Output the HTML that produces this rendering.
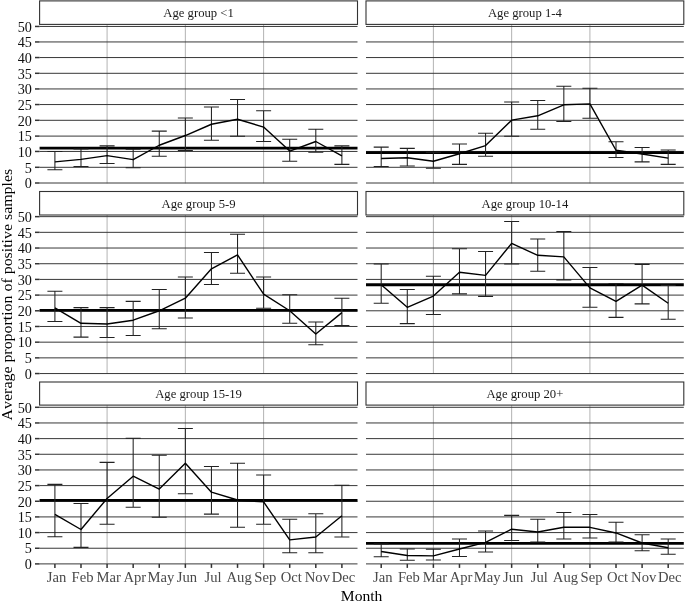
<!DOCTYPE html><html><head><meta charset="utf-8"><style>
html,body{margin:0;padding:0;background:#fff;}
svg{display:block;filter:grayscale(1);}
text{font-family:"Liberation Serif",serif;font-kerning:none;}
.st{font-size:12.7px;fill:#1a1a1a;text-anchor:middle;}
.yl{font-size:14.5px;fill:#111;text-anchor:end;}
.xl{font-size:14.5px;fill:#4a4a4a;text-anchor:middle;}
.tt{font-size:15.6px;fill:#000;text-anchor:middle;}
</style></head><body>
<svg width="685" height="602" viewBox="0 0 685 602">
<rect width="685" height="602" fill="#fff"/>
<g stroke="#b3b3b3" stroke-width="1.0"><line x1="107.08" y1="24.4" x2="107.08" y2="183.4"/><line x1="185.35" y1="24.4" x2="185.35" y2="183.4"/><line x1="263.62" y1="24.4" x2="263.62" y2="183.4"/><line x1="433.38" y1="24.4" x2="433.38" y2="183.4"/><line x1="511.65" y1="24.4" x2="511.65" y2="183.4"/><line x1="589.92" y1="24.4" x2="589.92" y2="183.4"/><line x1="107.08" y1="215" x2="107.08" y2="373.95"/><line x1="185.35" y1="215" x2="185.35" y2="373.95"/><line x1="263.62" y1="215" x2="263.62" y2="373.95"/><line x1="433.38" y1="215" x2="433.38" y2="373.95"/><line x1="511.65" y1="215" x2="511.65" y2="373.95"/><line x1="589.92" y1="215" x2="589.92" y2="373.95"/><line x1="107.08" y1="405.1" x2="107.08" y2="564.3"/><line x1="185.35" y1="405.1" x2="185.35" y2="564.3"/><line x1="263.62" y1="405.1" x2="263.62" y2="564.3"/><line x1="433.38" y1="405.1" x2="433.38" y2="564.3"/><line x1="511.65" y1="405.1" x2="511.65" y2="564.3"/><line x1="589.92" y1="405.1" x2="589.92" y2="564.3"/></g>
<g stroke="#383838" stroke-width="1.0"><line x1="39.6" y1="183" x2="357.5" y2="183"/><line x1="39.6" y1="167.3" x2="357.5" y2="167.3"/><line x1="39.6" y1="151.45" x2="357.5" y2="151.45"/><line x1="39.6" y1="136.1" x2="357.5" y2="136.1"/><line x1="39.6" y1="120.3" x2="357.5" y2="120.3"/><line x1="39.6" y1="104.55" x2="357.5" y2="104.55"/><line x1="39.6" y1="88.95" x2="357.5" y2="88.95"/><line x1="39.6" y1="73.3" x2="357.5" y2="73.3"/><line x1="39.6" y1="57.55" x2="357.5" y2="57.55"/><line x1="39.6" y1="41.95" x2="357.5" y2="41.95"/><line x1="39.6" y1="26.45" x2="357.5" y2="26.45"/><line x1="366" y1="183" x2="683.8" y2="183"/><line x1="366" y1="167.3" x2="683.8" y2="167.3"/><line x1="366" y1="151.45" x2="683.8" y2="151.45"/><line x1="366" y1="136.1" x2="683.8" y2="136.1"/><line x1="366" y1="120.3" x2="683.8" y2="120.3"/><line x1="366" y1="104.55" x2="683.8" y2="104.55"/><line x1="366" y1="88.95" x2="683.8" y2="88.95"/><line x1="366" y1="73.3" x2="683.8" y2="73.3"/><line x1="366" y1="57.55" x2="683.8" y2="57.55"/><line x1="366" y1="41.95" x2="683.8" y2="41.95"/><line x1="366" y1="26.45" x2="683.8" y2="26.45"/><line x1="39.6" y1="373.55" x2="357.5" y2="373.55"/><line x1="39.6" y1="357.86" x2="357.5" y2="357.86"/><line x1="39.6" y1="342.17" x2="357.5" y2="342.17"/><line x1="39.6" y1="326.48" x2="357.5" y2="326.48"/><line x1="39.6" y1="310.79" x2="357.5" y2="310.79"/><line x1="39.6" y1="295.1" x2="357.5" y2="295.1"/><line x1="39.6" y1="279.41" x2="357.5" y2="279.41"/><line x1="39.6" y1="263.72" x2="357.5" y2="263.72"/><line x1="39.6" y1="248.03" x2="357.5" y2="248.03"/><line x1="39.6" y1="232.34" x2="357.5" y2="232.34"/><line x1="39.6" y1="216.65" x2="357.5" y2="216.65"/><line x1="366" y1="373.55" x2="683.8" y2="373.55"/><line x1="366" y1="357.86" x2="683.8" y2="357.86"/><line x1="366" y1="342.17" x2="683.8" y2="342.17"/><line x1="366" y1="326.48" x2="683.8" y2="326.48"/><line x1="366" y1="310.79" x2="683.8" y2="310.79"/><line x1="366" y1="295.1" x2="683.8" y2="295.1"/><line x1="366" y1="279.41" x2="683.8" y2="279.41"/><line x1="366" y1="263.72" x2="683.8" y2="263.72"/><line x1="366" y1="248.03" x2="683.8" y2="248.03"/><line x1="366" y1="232.34" x2="683.8" y2="232.34"/><line x1="366" y1="216.65" x2="683.8" y2="216.65"/><line x1="39.6" y1="563.9" x2="357.5" y2="563.9"/><line x1="39.6" y1="548.24" x2="357.5" y2="548.24"/><line x1="39.6" y1="532.58" x2="357.5" y2="532.58"/><line x1="39.6" y1="516.92" x2="357.5" y2="516.92"/><line x1="39.6" y1="501.26" x2="357.5" y2="501.26"/><line x1="39.6" y1="485.6" x2="357.5" y2="485.6"/><line x1="39.6" y1="469.94" x2="357.5" y2="469.94"/><line x1="39.6" y1="454.28" x2="357.5" y2="454.28"/><line x1="39.6" y1="438.62" x2="357.5" y2="438.62"/><line x1="39.6" y1="422.96" x2="357.5" y2="422.96"/><line x1="39.6" y1="407.3" x2="357.5" y2="407.3"/><line x1="366" y1="563.9" x2="683.8" y2="563.9"/><line x1="366" y1="548.24" x2="683.8" y2="548.24"/><line x1="366" y1="532.58" x2="683.8" y2="532.58"/><line x1="366" y1="516.92" x2="683.8" y2="516.92"/><line x1="366" y1="501.26" x2="683.8" y2="501.26"/><line x1="366" y1="485.6" x2="683.8" y2="485.6"/><line x1="366" y1="469.94" x2="683.8" y2="469.94"/><line x1="366" y1="454.28" x2="683.8" y2="454.28"/><line x1="366" y1="438.62" x2="683.8" y2="438.62"/><line x1="366" y1="422.96" x2="683.8" y2="422.96"/><line x1="366" y1="407.3" x2="683.8" y2="407.3"/></g>
<g fill="#fff" stroke="#333333" stroke-width="1.1"><rect x="39.6" y="0.9" width="317.9" height="23.5"/><rect x="366" y="0.9" width="317.8" height="23.5"/><rect x="39.6" y="191.5" width="317.9" height="23.5"/><rect x="366" y="191.5" width="317.8" height="23.5"/><rect x="39.6" y="382" width="317.9" height="23.1"/><rect x="366" y="382" width="317.8" height="23.1"/></g>
<g stroke="#000" stroke-width="2.8"><line x1="39.6" y1="148.08" x2="357.5" y2="148.08"/><line x1="366" y1="152.62" x2="683.8" y2="152.62"/><line x1="39.6" y1="310.47" x2="357.5" y2="310.47"/><line x1="366" y1="284.75" x2="683.8" y2="284.75"/><line x1="39.6" y1="500.34" x2="357.5" y2="500.34"/><line x1="366" y1="543.3" x2="683.8" y2="543.3"/></g>
<g fill="none" stroke="#222" stroke-width="1.05"><path d="M47.4 151.53H62.4M54.9 151.53V169.72M47.4 169.72H62.4"/><path d="M73.49 149.02H88.49M80.99 149.02V166.58M73.49 166.58H88.49"/><path d="M99.58 145.88H114.58M107.08 145.88V163.44M99.58 163.44H114.58"/><path d="M125.67 149.33H140.67M133.17 149.33V167.83M125.67 167.83H140.67"/><path d="M151.76 131.14H166.76M159.26 131.14V156.23M151.76 156.23H166.76"/><path d="M177.85 117.97H192.85M185.35 117.97V150.59M177.85 150.59H192.85"/><path d="M203.94 107H218.94M211.44 107V140.24M203.94 140.24H218.94"/><path d="M230.03 99.47H245.03M237.53 99.47V136.16M230.03 136.16H245.03"/><path d="M256.12 110.76H271.12M263.62 110.76V141.49M256.12 141.49H271.12"/><path d="M282.21 139.3H297.21M289.71 139.3V161.25M282.21 161.25H297.21"/><path d="M308.3 129.26H323.3M315.8 129.26V152.15M308.3 152.15H323.3"/><path d="M334.39 145.88H349.39M341.89 145.88V164.38M334.39 164.38H349.39"/><path d="M373.7 147.14H388.7M381.2 147.14V166.58M373.7 166.58H388.7"/><path d="M399.79 148.39H414.79M407.29 148.39V165.95M399.79 165.95H414.79"/><path d="M425.88 152.15H440.88M433.38 152.15V168.15M425.88 168.15H440.88"/><path d="M451.97 144H466.97M459.47 144V164.38M451.97 164.38H466.97"/><path d="M478.06 133.34H493.06M485.56 133.34V156.23M478.06 156.23H493.06"/><path d="M504.15 101.98H519.15M511.65 101.98V136.16M504.15 136.16H519.15"/><path d="M530.24 100.41H545.24M537.74 100.41V129.26M530.24 129.26H545.24"/><path d="M556.33 86.3H571.33M563.83 86.3V121.42M556.33 121.42H571.33"/><path d="M582.42 88.18H597.42M589.92 88.18V118.28M582.42 118.28H597.42"/><path d="M608.51 141.8H623.51M616.01 141.8V157.48M608.51 157.48H623.51"/><path d="M634.6 147.45H649.6M642.1 147.45V161.88M634.6 161.88H649.6"/><path d="M660.69 149.96H675.69M668.19 149.96V164.38M660.69 164.38H675.69"/><path d="M47.4 291.34H62.4M54.9 291.34V321.44M47.4 321.44H62.4"/><path d="M73.49 307.64H88.49M80.99 307.64V337.12M73.49 337.12H88.49"/><path d="M99.58 307.64H114.58M107.08 307.64V337.44M99.58 337.44H114.58"/><path d="M125.67 301.37H140.67M133.17 301.37V335.55M125.67 335.55H140.67"/><path d="M151.76 289.46H166.76M159.26 289.46V328.66M151.76 328.66H166.76"/><path d="M177.85 276.91H192.85M185.35 276.91V317.99M177.85 317.99H192.85"/><path d="M203.94 252.45H218.94M211.44 252.45V284.44M203.94 284.44H218.94"/><path d="M230.03 234.26H245.03M237.53 234.26V273.15M230.03 273.15H245.03"/><path d="M256.12 276.91H271.12M263.62 276.91V308.27M256.12 308.27H271.12"/><path d="M282.21 294.79H297.21M289.71 294.79V323.32M282.21 323.32H297.21"/><path d="M308.3 322.07H323.3M315.8 322.07V344.65M308.3 344.65H323.3"/><path d="M334.39 298.24H349.39M341.89 298.24V325.52M334.39 325.52H349.39"/><path d="M373.7 264.05H388.7M381.2 264.05V303.25M373.7 303.25H388.7"/><path d="M399.79 289.46H414.79M407.29 289.46V323.64M399.79 323.64H414.79"/><path d="M425.88 276.28H440.88M433.38 276.28V314.54M425.88 314.54H440.88"/><path d="M451.97 248.69H466.97M459.47 248.69V293.85M451.97 293.85H466.97"/><path d="M478.06 251.51H493.06M485.56 251.51V296.35M478.06 296.35H493.06"/><path d="M504.15 221.4H519.15M511.65 221.4V264.05M504.15 264.05H519.15"/><path d="M530.24 238.97H545.24M537.74 238.97V271.27M530.24 271.27H545.24"/><path d="M556.33 231.44H571.33M563.83 231.44V280.05M556.33 280.05H571.33"/><path d="M582.42 267.5H597.42M589.92 267.5V307.33M582.42 307.33H597.42"/><path d="M608.51 283.5H623.51M616.01 283.5V317.37M608.51 317.37H623.51"/><path d="M634.6 264.37H649.6M642.1 264.37V303.88M634.6 303.88H649.6"/><path d="M660.69 285.38H675.69M668.19 285.38V319.25M660.69 319.25H675.69"/><path d="M47.4 484.35H62.4M54.9 484.35V536.72M47.4 536.72H62.4"/><path d="M73.49 503.48H88.49M80.99 503.48V547.38M73.49 547.38H88.49"/><path d="M99.58 462.39H114.58M107.08 462.39V524.17M99.58 524.17H114.58"/><path d="M125.67 438.25H140.67M133.17 438.25V507.24M125.67 507.24H140.67"/><path d="M151.76 455.18H166.76M159.26 455.18V517.27M151.76 517.27H166.76"/><path d="M177.85 428.52H192.85M185.35 428.52V493.75M177.85 493.75H192.85"/><path d="M203.94 466.47H218.94M211.44 466.47V514.14M203.94 514.14H218.94"/><path d="M230.03 463.33H245.03M237.53 463.33V527.31M230.03 527.31H245.03"/><path d="M256.12 474.94H271.12M263.62 474.94V524.17M256.12 524.17H271.12"/><path d="M282.21 519.16H297.21M289.71 519.16V552.71M282.21 552.71H297.21"/><path d="M308.3 513.82H323.3M315.8 513.82V552.71M308.3 552.71H323.3"/><path d="M334.39 485.29H349.39M341.89 485.29V537.03M334.39 537.03H349.39"/><path d="M373.7 543.93H388.7M381.2 543.93V556.79M373.7 556.79H388.7"/><path d="M399.79 548.95H414.79M407.29 548.95V560.24M399.79 560.24H414.79"/><path d="M425.88 549.26H440.88M433.38 549.26V559.92M425.88 559.92H440.88"/><path d="M451.97 538.91H466.97M459.47 538.91V556.47M451.97 556.47H466.97"/><path d="M478.06 531.07H493.06M485.56 531.07V552.08M478.06 552.08H493.06"/><path d="M504.15 515.39H519.15M511.65 515.39V540.48M504.15 540.48H519.15"/><path d="M530.24 519.16H545.24M537.74 519.16V542.05M530.24 542.05H545.24"/><path d="M556.33 512.57H571.33M563.83 512.57V538.91M556.33 538.91H571.33"/><path d="M582.42 514.45H597.42M589.92 514.45V537.97M582.42 537.97H597.42"/><path d="M608.51 522.29H623.51M616.01 522.29V542.05M608.51 542.05H623.51"/><path d="M634.6 534.84H649.6M642.1 534.84V550.83M634.6 550.83H649.6"/><path d="M660.69 538.91H675.69M668.19 538.91V554.28M660.69 554.28H675.69"/></g>
<g fill="none" stroke="#000" stroke-width="1.4" stroke-linejoin="round"><polyline points="54.9,161.88 80.99,159.37 107.08,155.6 133.17,159.68 159.26,145.25 185.35,135.53 211.44,124.24 237.53,119.23 263.62,127.07 289.71,151.06 315.8,141.49 341.89,155.92"/><polyline points="381.2,158.43 407.29,157.8 433.38,161.25 459.47,153.72 485.56,145.57 511.65,120.17 537.74,115.78 563.83,104.8 589.92,103.86 616.01,150.27 642.1,154.04 668.19,158.11"/><polyline points="54.9,307.96 80.99,323.32 107.08,323.95 133.17,320.19 159.26,310.78 185.35,298.24 211.44,268.76 237.53,254.96 263.62,294.16 289.71,310.78 315.8,333.99 341.89,312.66"/><polyline points="381.2,284.75 407.29,307.33 433.38,296.04 459.47,272.21 485.56,275.34 511.65,243.36 537.74,255.27 563.83,256.84 589.92,287.89 616.01,301.37 642.1,285.06 668.19,303.25"/><polyline points="54.9,514.45 80.99,529.5 107.08,498.46 133.17,476.19 159.26,489.05 185.35,463.33 211.44,492.19 237.53,500.03 263.62,501.91 289.71,539.85 315.8,537.03 341.89,515.71"/><polyline points="381.2,551.46 407.29,555.53 433.38,555.85 459.47,548.95 485.56,542.36 511.65,529.19 537.74,532.01 563.83,527.31 589.92,527.31 616.01,532.95 642.1,542.99 668.19,547.69"/></g>
<g stroke="#333" stroke-width="1.5"><line x1="35" y1="183" x2="39.6" y2="183"/><line x1="35" y1="167.3" x2="39.6" y2="167.3"/><line x1="35" y1="151.45" x2="39.6" y2="151.45"/><line x1="35" y1="136.1" x2="39.6" y2="136.1"/><line x1="35" y1="120.3" x2="39.6" y2="120.3"/><line x1="35" y1="104.55" x2="39.6" y2="104.55"/><line x1="35" y1="88.95" x2="39.6" y2="88.95"/><line x1="35" y1="73.3" x2="39.6" y2="73.3"/><line x1="35" y1="57.55" x2="39.6" y2="57.55"/><line x1="35" y1="41.95" x2="39.6" y2="41.95"/><line x1="35" y1="26.45" x2="39.6" y2="26.45"/><line x1="35" y1="373.55" x2="39.6" y2="373.55"/><line x1="35" y1="357.86" x2="39.6" y2="357.86"/><line x1="35" y1="342.17" x2="39.6" y2="342.17"/><line x1="35" y1="326.48" x2="39.6" y2="326.48"/><line x1="35" y1="310.79" x2="39.6" y2="310.79"/><line x1="35" y1="295.1" x2="39.6" y2="295.1"/><line x1="35" y1="279.41" x2="39.6" y2="279.41"/><line x1="35" y1="263.72" x2="39.6" y2="263.72"/><line x1="35" y1="248.03" x2="39.6" y2="248.03"/><line x1="35" y1="232.34" x2="39.6" y2="232.34"/><line x1="35" y1="216.65" x2="39.6" y2="216.65"/><line x1="35" y1="563.9" x2="39.6" y2="563.9"/><line x1="35" y1="548.24" x2="39.6" y2="548.24"/><line x1="35" y1="532.58" x2="39.6" y2="532.58"/><line x1="35" y1="516.92" x2="39.6" y2="516.92"/><line x1="35" y1="501.26" x2="39.6" y2="501.26"/><line x1="35" y1="485.6" x2="39.6" y2="485.6"/><line x1="35" y1="469.94" x2="39.6" y2="469.94"/><line x1="35" y1="454.28" x2="39.6" y2="454.28"/><line x1="35" y1="438.62" x2="39.6" y2="438.62"/><line x1="35" y1="422.96" x2="39.6" y2="422.96"/><line x1="35" y1="407.3" x2="39.6" y2="407.3"/><line x1="54.9" y1="563.9" x2="54.9" y2="567.9"/><line x1="80.99" y1="563.9" x2="80.99" y2="567.9"/><line x1="107.08" y1="563.9" x2="107.08" y2="567.9"/><line x1="133.17" y1="563.9" x2="133.17" y2="567.9"/><line x1="159.26" y1="563.9" x2="159.26" y2="567.9"/><line x1="185.35" y1="563.9" x2="185.35" y2="567.9"/><line x1="211.44" y1="563.9" x2="211.44" y2="567.9"/><line x1="237.53" y1="563.9" x2="237.53" y2="567.9"/><line x1="263.62" y1="563.9" x2="263.62" y2="567.9"/><line x1="289.71" y1="563.9" x2="289.71" y2="567.9"/><line x1="315.8" y1="563.9" x2="315.8" y2="567.9"/><line x1="341.89" y1="563.9" x2="341.89" y2="567.9"/><line x1="381.2" y1="563.9" x2="381.2" y2="567.9"/><line x1="407.29" y1="563.9" x2="407.29" y2="567.9"/><line x1="433.38" y1="563.9" x2="433.38" y2="567.9"/><line x1="459.47" y1="563.9" x2="459.47" y2="567.9"/><line x1="485.56" y1="563.9" x2="485.56" y2="567.9"/><line x1="511.65" y1="563.9" x2="511.65" y2="567.9"/><line x1="537.74" y1="563.9" x2="537.74" y2="567.9"/><line x1="563.83" y1="563.9" x2="563.83" y2="567.9"/><line x1="589.92" y1="563.9" x2="589.92" y2="567.9"/><line x1="616.01" y1="563.9" x2="616.01" y2="567.9"/><line x1="642.1" y1="563.9" x2="642.1" y2="567.9"/><line x1="668.19" y1="563.9" x2="668.19" y2="567.9"/></g>
<text class="st" x="198.55" y="17.3">Age group &lt;1</text><text class="st" x="524.9" y="17.3">Age group 1-4</text><text class="st" x="198.55" y="207.9">Age group 5-9</text><text class="st" x="524.9" y="207.9">Age group 10-14</text><text class="st" x="198.55" y="398.2">Age group 15-19</text><text class="st" x="524.9" y="398.2">Age group 20+</text><text class="yl" transform="translate(31.9 188.25) scale(0.98 1.06)">0</text><text class="yl" transform="translate(31.9 172.55) scale(0.98 1.06)">5</text><text class="yl" transform="translate(31.9 156.7) scale(0.98 1.06)">10</text><text class="yl" transform="translate(31.9 141.35) scale(0.98 1.06)">15</text><text class="yl" transform="translate(31.9 125.55) scale(0.98 1.06)">20</text><text class="yl" transform="translate(31.9 109.8) scale(0.98 1.06)">25</text><text class="yl" transform="translate(31.9 94.2) scale(0.98 1.06)">30</text><text class="yl" transform="translate(31.9 78.55) scale(0.98 1.06)">35</text><text class="yl" transform="translate(31.9 62.8) scale(0.98 1.06)">40</text><text class="yl" transform="translate(31.9 47.2) scale(0.98 1.06)">45</text><text class="yl" transform="translate(31.9 31.7) scale(0.98 1.06)">50</text><text class="yl" transform="translate(31.9 378.8) scale(0.98 1.06)">0</text><text class="yl" transform="translate(31.9 363.11) scale(0.98 1.06)">5</text><text class="yl" transform="translate(31.9 347.42) scale(0.98 1.06)">10</text><text class="yl" transform="translate(31.9 331.73) scale(0.98 1.06)">15</text><text class="yl" transform="translate(31.9 316.04) scale(0.98 1.06)">20</text><text class="yl" transform="translate(31.9 300.35) scale(0.98 1.06)">25</text><text class="yl" transform="translate(31.9 284.66) scale(0.98 1.06)">30</text><text class="yl" transform="translate(31.9 268.97) scale(0.98 1.06)">35</text><text class="yl" transform="translate(31.9 253.28) scale(0.98 1.06)">40</text><text class="yl" transform="translate(31.9 237.59) scale(0.98 1.06)">45</text><text class="yl" transform="translate(31.9 221.9) scale(0.98 1.06)">50</text><text class="yl" transform="translate(31.9 569.15) scale(0.98 1.06)">0</text><text class="yl" transform="translate(31.9 553.49) scale(0.98 1.06)">5</text><text class="yl" transform="translate(31.9 537.83) scale(0.98 1.06)">10</text><text class="yl" transform="translate(31.9 522.17) scale(0.98 1.06)">15</text><text class="yl" transform="translate(31.9 506.51) scale(0.98 1.06)">20</text><text class="yl" transform="translate(31.9 490.85) scale(0.98 1.06)">25</text><text class="yl" transform="translate(31.9 475.19) scale(0.98 1.06)">30</text><text class="yl" transform="translate(31.9 459.53) scale(0.98 1.06)">35</text><text class="yl" transform="translate(31.9 443.87) scale(0.98 1.06)">40</text><text class="yl" transform="translate(31.9 428.21) scale(0.98 1.06)">45</text><text class="yl" transform="translate(31.9 412.55) scale(0.98 1.06)">50</text><text class="xl" transform="translate(56.5 581.5) scale(1.01 1.03)">Jan</text><text class="xl" transform="translate(82.59 581.5) scale(1.01 1.03)">Feb</text><text class="xl" transform="translate(108.68 581.5) scale(1.01 1.03)">Mar</text><text class="xl" transform="translate(134.77 581.5) scale(1.01 1.03)">Apr</text><text class="xl" transform="translate(160.86 581.5) scale(1.01 1.03)">May</text><text class="xl" transform="translate(186.95 581.5) scale(1.01 1.03)">Jun</text><text class="xl" transform="translate(213.04 581.5) scale(1.01 1.03)">Jul</text><text class="xl" transform="translate(239.13 581.5) scale(1.01 1.03)">Aug</text><text class="xl" transform="translate(265.22 581.5) scale(1.01 1.03)">Sep</text><text class="xl" transform="translate(291.31 581.5) scale(1.01 1.03)">Oct</text><text class="xl" transform="translate(317.4 581.5) scale(1.01 1.03)">Nov</text><text class="xl" transform="translate(343.49 581.5) scale(1.01 1.03)">Dec</text><text class="xl" transform="translate(382.8 581.5) scale(1.01 1.03)">Jan</text><text class="xl" transform="translate(408.89 581.5) scale(1.01 1.03)">Feb</text><text class="xl" transform="translate(434.98 581.5) scale(1.01 1.03)">Mar</text><text class="xl" transform="translate(461.07 581.5) scale(1.01 1.03)">Apr</text><text class="xl" transform="translate(487.16 581.5) scale(1.01 1.03)">May</text><text class="xl" transform="translate(513.25 581.5) scale(1.01 1.03)">Jun</text><text class="xl" transform="translate(539.34 581.5) scale(1.01 1.03)">Jul</text><text class="xl" transform="translate(565.43 581.5) scale(1.01 1.03)">Aug</text><text class="xl" transform="translate(591.52 581.5) scale(1.01 1.03)">Sep</text><text class="xl" transform="translate(617.61 581.5) scale(1.01 1.03)">Oct</text><text class="xl" transform="translate(643.7 581.5) scale(1.01 1.03)">Nov</text><text class="xl" transform="translate(669.79 581.5) scale(1.01 1.03)">Dec</text>
<text class="tt" x="361.6" y="600.6">Month</text>
<text class="tt" style="font-size:15.9px" transform="translate(12,294.6) rotate(-90) scale(1 0.96)" x="0" y="0">Average proportion of positive samples</text>
</svg></body></html>
